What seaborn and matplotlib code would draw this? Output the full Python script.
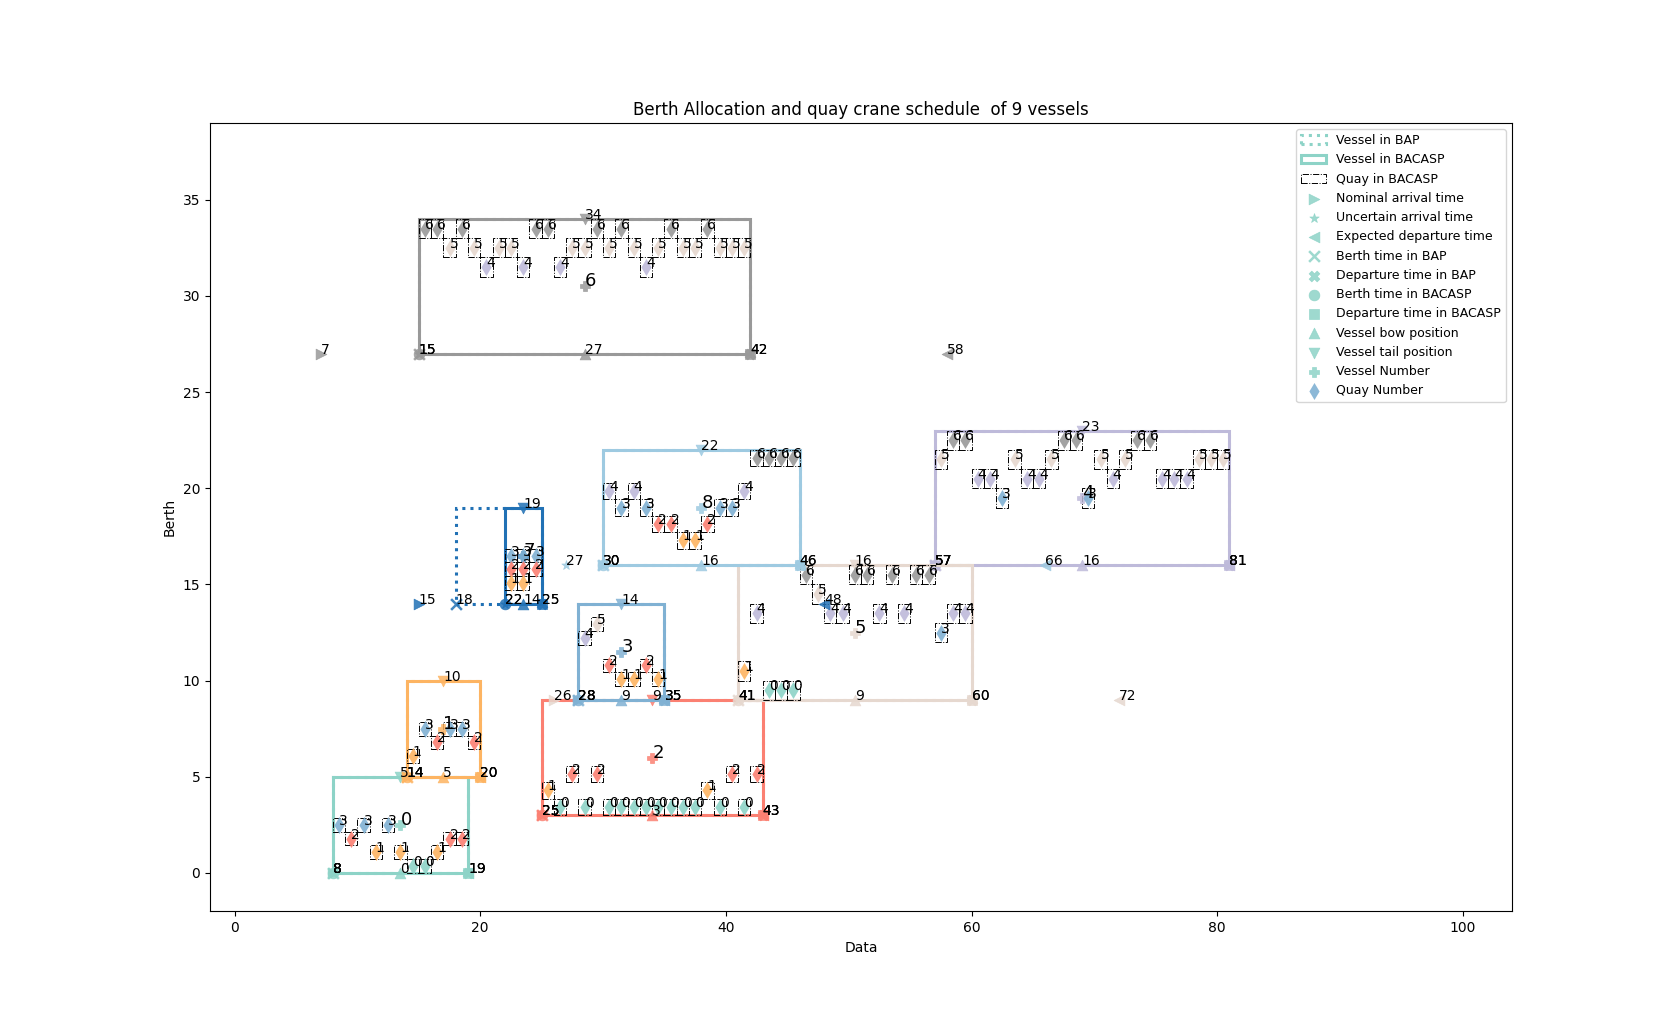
import numpy as np
import seaborn as sns
import matplotlib.pyplot as plt
from matplotlib.patches import Rectangle

# vessel colours (also used for quay numbers: quay q -> colors[q])
colors = ["#8dd3c7", "#fdb462", "#fb8072", "#80b1d3", "#bebada",
          "#e6d8cf", "#999999", "#2171b5", "#9ecae1"]

vessels = [0, 1, 2, 3, 4, 5, 6, 7, 8]
berth_start = [8, 14, 25, 28, 57, 41, 15, 22, 30]
berth_end = [19, 20, 43, 35, 81, 60, 42, 25, 46]
bap_start = [8, 14, 25, 28, 57, 41, 15, 18, 30]
bap_end = [19, 20, 43, 35, 81, 60, 42, 25, 46]
bow = [0, 5, 3, 9, 16, 9, 27, 14, 16]
tail = [5, 10, 9, 14, 23, 16, 34, 19, 22]
nominal_arrival = [8, 14, 25, 28, 57, 26, 7, 15, 30]
uncertain_arrival = [8, 14, 25, 28, 57, 41, 15, 22, 27]
expected_departure = [19, 20, 43, 35, 81, 72, 58, 48, 66]

# quay number -> time slots, per vessel
quays_v0 = {3: [8, 10, 12], 2: [9, 17, 18], 1: [11, 13, 16], 0: [14, 15]}
quays_v1 = {3: [15, 17, 18], 2: [16, 19], 1: [14]}
quays_v2 = {2: [27, 29, 40, 42], 1: [25, 38],
            0: [26, 28, 30, 31, 32, 33, 34, 35, 36, 37, 39, 41]}
quays_v3 = {5: [29], 4: [28], 2: [30, 33], 1: [31, 32, 34]}
quays_v4 = {6: [58, 59, 67, 68, 73, 74], 5: [57, 63, 66, 70, 72, 78, 79, 80],
            4: [60, 61, 64, 65, 71, 75, 76, 77], 3: [62, 69]}
quays_v5 = {6: [46, 50, 51, 53, 55, 56], 5: [47], 4: [42, 48, 49, 52, 54, 58, 59],
            3: [57], 1: [41], 0: [43, 44, 45]}
quays_v6 = {6: [15, 16, 18, 24, 25, 29, 31, 35, 38],
            5: [17, 19, 21, 22, 27, 28, 30, 32, 34, 36, 37, 39, 40, 41],
            4: [20, 23, 26, 33]}
quays_v7 = {3: [22, 23, 24], 2: [22, 23, 24], 1: [22, 23]}
quays_v8 = {6: [42, 43, 44, 45], 4: [30, 32, 41], 3: [31, 33, 39, 40],
            2: [34, 35, 38], 1: [36, 37]}
quays = [quays_v0, quays_v1, quays_v2, quays_v3, quays_v4,
         quays_v5, quays_v6, quays_v7, quays_v8]

n_quays = 7
fs = 10

fig, ax = plt.subplots(figsize=(16.8, 10.24))


def point(x, y, marker, color, label, text, s=60, lw=0.5):
    sns.scatterplot(x=[x], y=[y], marker=marker, color=color, s=s, alpha=0.85,
                    edgecolor=color, linewidth=lw, ax=ax, label=label, legend=False)
    ax.text(x, y, text, fontsize=fs)


for v in vessels:
    c = colors[v]
    first = v == 0
    h = tail[v] - bow[v]
    mid = (berth_start[v] + berth_end[v]) / 2

    ax.add_patch(Rectangle((bap_start[v], bow[v]), bap_end[v] - bap_start[v], h,
                           fill=False, ec=c, ls=':', lw=2.2,
                           label="Vessel in BAP" if first else None))
    ax.add_patch(Rectangle((berth_start[v], bow[v]), berth_end[v] - berth_start[v], h,
                           fill=False, ec=c, ls='-', lw=2.2,
                           label="Vessel in BACASP" if first else None))

    # quay boxes
    k = 0
    for q, times in quays[v].items():
        for t in times:
            ax.add_patch(Rectangle((t, bow[v] + h * q / n_quays), 1, h / n_quays,
                                   fill=False, ec='black', ls='-.', lw=0.7,
                                   label="Quay in BACASP" if (first and k == 0) else None))
            k += 1

    point(nominal_arrival[v], bow[v], '>', c, "Nominal arrival time" if first else None,
          str(nominal_arrival[v]))
    point(uncertain_arrival[v], bow[v], '*', c, "Uncertain arrival time" if first else None,
          str(uncertain_arrival[v]), s=50)
    point(expected_departure[v], bow[v], '<', c, "Expected departure time" if first else None,
          str(expected_departure[v]))
    point(bap_start[v], bow[v], 'x', c, "Berth time in BAP" if first else None,
          str(bap_start[v]), lw=1.8)
    point(bap_end[v], bow[v], 'X', c, "Departure time in BAP" if first else None,
          str(bap_end[v]))
    point(berth_start[v], bow[v], 'o', c, "Berth time in BACASP" if first else None,
          str(berth_start[v]))
    point(berth_end[v], bow[v], 's', c, "Departure time in BACASP" if first else None,
          str(berth_end[v]))
    point(mid, bow[v], '^', c, "Vessel bow position" if first else None, str(bow[v]))
    point(mid, tail[v], 'v', c, "Vessel tail position" if first else None, str(tail[v]))

    cy = (bow[v] + tail[v]) / 2
    sns.scatterplot(x=[mid], y=[cy], marker='P', color=c, s=60, alpha=0.85,
                    edgecolor=c, linewidth=0.5, ax=ax,
                    label="Vessel Number" if first else None, legend=False)
    ax.text(mid, cy, str(v), fontsize=13)

    # quay numbers
    k = 0
    for q, times in quays[v].items():
        yc = bow[v] + h * (q + 0.5) / n_quays
        xs = [t + 0.5 for t in times]
        sns.scatterplot(x=xs, y=[yc] * len(xs), marker='d', color=colors[q], s=75,
                        alpha=0.9, linewidth=0, ax=ax,
                        label="Quay Number" if (first and k == 0) else None, legend=False)
        for x in xs:
            ax.text(x, yc, str(q), fontsize=fs)
        k += 1

ax.set_xlim(-2, 104)
ax.set_ylim(-2, 39)
ax.set_xticks([0, 20, 40, 60, 80, 100])
ax.set_yticks([0, 5, 10, 15, 20, 25, 30, 35])
ax.set_title("Berth Allocation and quay crane schedule  of 9 vessels")
ax.set_xlabel("Data")
ax.set_ylabel("Berth")
ax.legend(loc='upper right', fontsize=9)

fig.savefig("out.png", dpi=100)
